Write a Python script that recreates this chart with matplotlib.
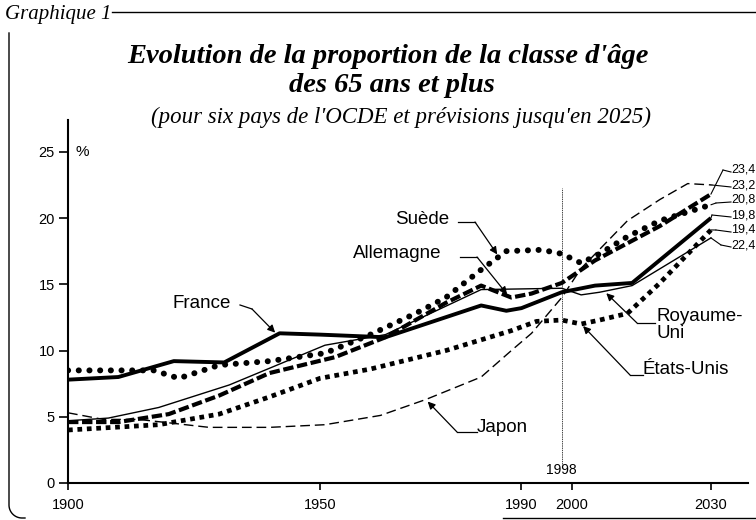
import numpy as np
import matplotlib
matplotlib.use("Agg")
import matplotlib.pyplot as plt
from matplotlib.lines import Line2D

# ---- data (share of people aged 65+, %) ----
france_years = [1900, 1910, 1921, 1931, 1942, 1950, 1963, 1982, 1987, 1990, 1998, 2005, 2013, 2030]
france_vals = [7.8, 8.0, 9.2, 9.1, 11.3, 11.2, 11.0, 13.4, 13.0, 13.2, 14.4, 14.9, 15.1, 20.0]

ru_years = [1900, 1908, 1918, 1932, 1951, 1963, 1982, 1998, 2002, 2006, 2013, 2030]
ru_vals = [4.7, 4.9, 5.7, 7.4, 10.4, 11.2, 14.6, 14.7, 14.2, 14.4, 14.9, 18.5]

allemagne_years = [1900, 1910, 1920, 1930, 1940, 1953, 1963, 1975, 1982, 1988, 1992, 1998, 2005, 2012, 2019, 2030]
allemagne_vals = [4.6, 4.6, 5.2, 6.6, 8.3, 9.5, 11.0, 13.6, 14.9, 14.0, 14.3, 15.1, 16.8, 18.1, 19.4, 21.8]

suede_years = [1900, 1917, 1922, 1930, 1940, 1951, 1960, 1969, 1975, 1982, 1987, 1994, 1998, 2002, 2006, 2012, 2019, 2030]
suede_vals = [8.5, 8.5, 7.9, 8.9, 9.2, 9.8, 11.2, 12.8, 14.0, 16.1, 17.5, 17.6, 17.3, 16.6, 17.3, 18.6, 19.8, 21.0]

usa_years = [1900, 1918, 1930, 1940, 1950, 1960, 1975, 1988, 1993, 1998, 2002, 2006, 2012, 2019, 2030]
usa_vals = [4.0, 4.4, 5.2, 6.5, 7.9, 8.6, 10.0, 11.5, 12.2, 12.3, 12.0, 12.3, 12.8, 15.1, 19.1]

japon_years = [1900, 1907, 1914, 1928, 1940, 1951, 1962, 1971, 1982, 1988, 1992, 1998, 2002, 2012, 2019, 2025, 2030]
japon_vals = [5.3, 4.8, 4.8, 4.2, 4.2, 4.4, 5.1, 6.3, 8.0, 10.0, 11.3, 14.0, 16.2, 19.8, 21.4, 22.6, 22.5]

end_labels = ["23,4", "23,2", "20,8", "19,8", "19,4", "22,4"]
x_ticks = [1900, 1950, 1990, 2000, 2030]
y_ticks = [0, 5, 10, 15, 20, 25]

W, H = 756, 520


def fx(px):
    return px / W


def fy(py):
    return 1 - py / H


# projection years are drawn a little compressed, like in the original
def fwd(x):
    x = np.asarray(x, dtype=float)
    return np.where(x <= 2000, x, 2000 + (x - 2000) * 0.92)


def inv(x):
    x = np.asarray(x, dtype=float)
    return np.where(x <= 2000, x, 2000 + (x - 2000) / 0.92)


plt.rcParams["lines.scale_dashes"] = False
serif = ["Liberation Serif", "DejaVu Serif"]
sans = ["Liberation Sans", "DejaVu Sans"]

fig = plt.figure(figsize=(W / 100, H / 100), dpi=100)
ax = fig.add_axes([fx(68), fy(483), fx(748) - fx(68), fy(120) - fy(483)])
ax.set_xscale("function", functions=(fwd, inv))
ax.set_xlim(1900, 2038)
ax.set_ylim(0, 27.4)

series = {
    "France": (france_years, france_vals, dict(color="black", lw=2.8, solid_capstyle="butt")),
    "Royaume-Uni": (ru_years, ru_vals, dict(color="black", lw=1.0)),
    "Allemagne": (allemagne_years, allemagne_vals,
                  dict(color="black", lw=3.0, dashes=(7.5, 2.6), dash_capstyle="butt")),
    "Suède": (suede_years, suede_vals,
              dict(color="black", lw=4.3, dashes=(0.1, 7.6), dash_capstyle="round")),
    "États-Unis": (usa_years, usa_vals,
                   dict(color="black", lw=3.4, dashes=(3.4, 3.4), dash_capstyle="butt")),
    "Japon": (japon_years, japon_vals,
              dict(color="black", lw=1.0, dashes=(7, 3.5), dash_capstyle="butt")),
}
for name, (yrs, vals, style) in series.items():
    ax.plot(yrs, vals, **style, zorder=3)

# 1998 marker line
ax.vlines(1998, 1.4, 22.3, color="#444444", lw=0.7, linestyles=(0, (1, 0.6)), zorder=2)
ax.text(1998, 0.45, "1998", ha="center", va="bottom", fontsize=10, family=sans)

for side in ["top", "right"]:
    ax.spines[side].set_visible(False)
for side in ["left", "bottom"]:
    ax.spines[side].set_linewidth(1.5)
ax.set_xticks(x_ticks)
ax.set_xticklabels([str(t) for t in x_ticks], family=sans, fontsize=10.5)
ax.set_yticks(y_ticks)
ax.set_yticklabels([str(t) for t in y_ticks], family=sans, fontsize=10.5)
ax.tick_params(axis="x", direction="out", length=5, width=1.2, pad=6)
ax.tick_params(axis="y", direction="out", length=6.5, width=1.2, pad=3)
ax.text(1901.5, 25, "%", ha="left", va="center", fontsize=11, family=sans)

# country labels with leader arrows: text position, elbow (figure px), tip year
callouts = [
    ("France", (172, 303), (240, 305), (252, 309), 1941.5),
    ("Allemagne", (353, 253), (460, 257), (477, 257), 1987.5),
    ("Suède", (395, 219), (458, 222), (475, 222), 1985.5),
    ("Royaume-\nUni", (656, 325), (655, 323), (637, 323), 2007),
    ("États-Unis", (643, 370), (643, 375), (630, 375), 2002),
    ("Japon", (477, 428), (477, 432), (457, 432), 1971),
]
for name, (tx, ty), p0, p1, tip_year in callouts:
    fig.text(fx(tx), fy(ty), name, ha="left", va="center", fontsize=13.5, family=sans,
             linespacing=1.05)
    fig.add_artist(Line2D([fx(p0[0]), fx(p1[0])], [fy(p0[1]), fy(p1[1])], color="black", lw=0.9))
    yrs, vals, _ = series[name.replace("\n", "")]
    tip = (tip_year, float(np.interp(tip_year, yrs, vals)))
    ax.annotate("", xy=tip, xycoords="data", xytext=(fx(p1[0]), fy(p1[1])),
                textcoords="figure fraction",
                arrowprops=dict(arrowstyle="-|>", color="black", lw=0.9,
                                mutation_scale=11, shrinkA=0, shrinkB=2))

# end-of-line values
end_order = ["Allemagne", "Japon", "Suède", "France", "États-Unis", "Royaume-Uni"]
label_y = [170, 185, 200, 215, 230, 245]
elbow_px = [(723, 170), (712, 185), (716, 203), (712, 215), (716, 230), (721, 245)]
for lab, name, ly, (ex, ey) in zip(end_labels, end_order, label_y, elbow_px):
    yrs, vals, _ = series[name]
    fig.text(fx(731), fy(ly), lab, ha="left", va="center", fontsize=9, family=sans)
    fig.add_artist(Line2D([fx(ex), fx(731)], [fy(ey), fy(ly + 2)], color="black", lw=0.8))
    ax.annotate("", xy=(yrs[-1], vals[-1]), xycoords="data", xytext=(fx(ex), fy(ey)),
                textcoords="figure fraction",
                arrowprops=dict(arrowstyle="-", color="black", lw=0.8, shrinkA=0, shrinkB=0))

# titles
fig.text(fx(5), fy(14), "Graphique 1", ha="left", va="center", fontsize=15,
         style="italic", family=serif)
fig.text(fx(388), fy(56), "Evolution de la proportion de la classe d'âge", ha="center",
         va="center", fontsize=20.5, style="italic", weight="bold", family=serif)
fig.text(fx(392), fy(86), "des 65 ans et plus", ha="center", va="center", fontsize=20.5,
         style="italic", weight="bold", family=serif)
fig.text(fx(401), fy(117), "(pour six pays de l'OCDE et prévisions jusqu'en 2025)",
         ha="center", va="center", fontsize=16.5, style="italic", family=serif)

# frame around the figure
fig.add_artist(Line2D([fx(112), fx(756)], [fy(12), fy(12)], color="black", lw=1.0))
t = np.linspace(np.pi, 1.5 * np.pi, 20)
corner_x = 22 + 13 * np.cos(t)
corner_y = 505 - 13 * np.sin(t)
frame_x = np.concatenate([[9], corner_x, [25]])
frame_y = np.concatenate([[33], corner_y, [518]])
fig.add_artist(Line2D(fx(frame_x), fy(frame_y), color="black", lw=1.0))
fig.add_artist(Line2D([fx(503), fx(756)], [fy(518), fy(518)], color="black", lw=1.0))

fig.savefig("out.png", dpi=100)
